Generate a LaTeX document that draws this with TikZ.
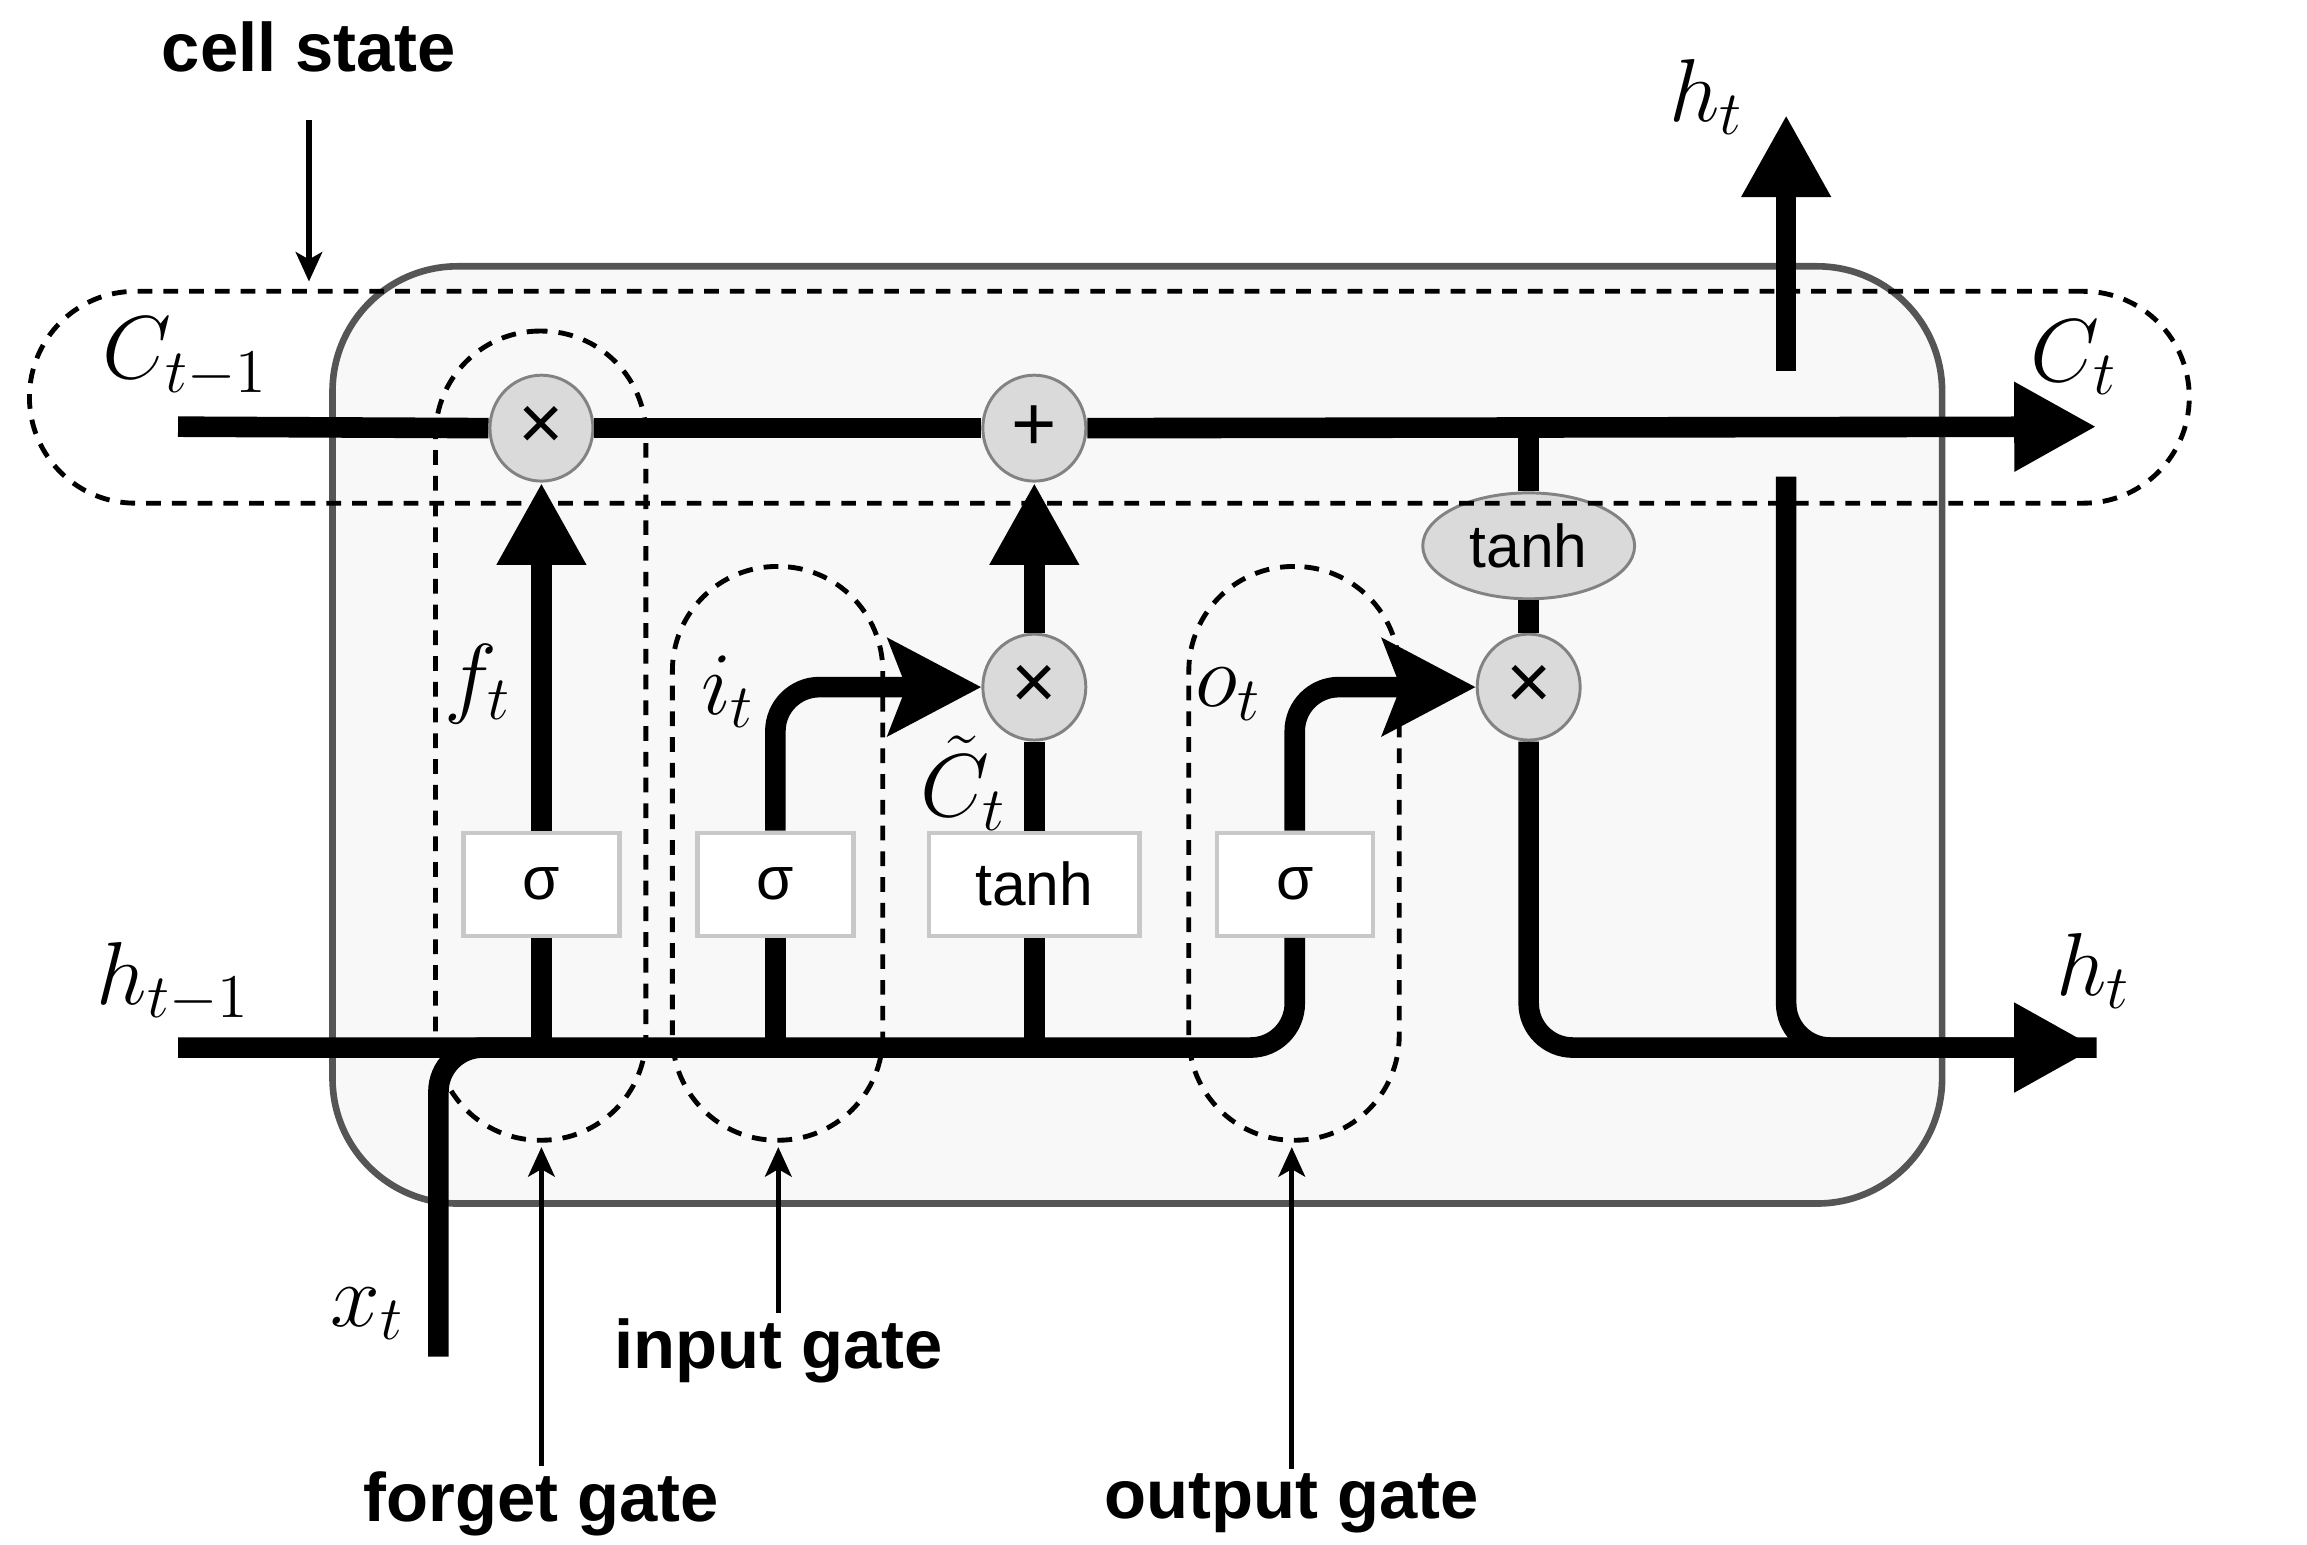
\documentclass[tikz,border=0pt]{standalone}
\usepackage{fontspec}
\setmainfont{Liberation Sans}
\usetikzlibrary{arrows.meta,shapes.geometric}
\definecolor{boxedge}{RGB}{85,85,85}
\definecolor{boxfill}{RGB}{248,248,248}
\definecolor{opedge}{RGB}{130,130,130}
\definecolor{opfill}{RGB}{218,218,218}
\definecolor{layedge}{RGB}{200,200,200}
\tikzset{
  main/.style={line width=1.4mm},
  bigtip/.style={-{Triangle[length=5.6mm,width=5.7mm]}},
  sidetip/.style={-{Stealth[length=6.3mm,width=6.5mm,inset=1.2mm]}},
  cellbox/.style={draw=boxedge, line width=0.45mm, fill=boxfill, rounded corners=8.5mm, minimum width=109.4mm, minimum height=63.7mm, inner sep=0pt},
  optr/.style={draw=opedge, line width=0.2mm, fill=opfill, ellipse, minimum width=7mm, minimum height=7.2mm, inner sep=0pt, font=\fontsize{15}{15}\selectfont},
  layer/.style={draw=layedge, line width=0.3mm, fill=white, minimum width=10.6mm, minimum height=7mm, inner sep=0pt, font=\fontsize{11.7}{12}\selectfont},
  gate/.style={draw, dash pattern=on 1mm off 0.75mm, line width=0.33mm, rounded corners=7.1mm, minimum width=14.3mm, inner sep=0pt},
  mlabel/.style={font=\fontsize{17.5}{20}\selectfont, inner sep=0pt},
  blabel/.style={font=\fontsize{13.3}{16}\selectfont\bfseries, inner sep=0pt},
  note/.style={line width=0.35mm, -{Stealth[length=2mm,width=1.8mm,inset=0.5mm]}},
}
\begin{document}
\begin{tikzpicture}[x=0.1mm,y=-0.1mm]
\fill[white] (0,0) rectangle (1568,1050);
\useasboundingbox (0,0) rectangle (1568,1050);
% cell body
\node[cellbox] (cell) at (773,499.5) {};
% pointwise operators
\node[optr] (fx) at (368,291) {×};
\node[optr] (plus) at (703,291) {+};
\node[optr] (ix) at (703,467) {×};
\node[optr] (ox) at (1039,467) {×};
\node[optr, minimum width=14.4mm, minimum height=7.2mm, font=\fontsize{11.7}{12}\selectfont] (th) at (1039,371) {tanh};
% layers
\node[layer] (sigf) at (368,601) {σ};
\node[layer] (sigi) at (527,601) {σ};
\node[layer, minimum width=14.3mm] (tanhl) at (703,601) {tanh};
\node[layer] (sigo) at (880,601) {σ};
% free ends
\coordinate (cs0) at (121,290);
\coordinate (cs1) at (1425,290);
\coordinate (h0) at (121,712);
\coordinate (hout) at (1425,712);
\coordinate (x0) at (298,922);
\coordinate (hupA) at (1214,324);
\coordinate (hupB) at (1214,252);
\coordinate (hupC) at (1214,78);
% cell state line
\draw[main] (cs0) -- (fx.west);
\draw[main] (fx.east) -- (plus.west);
\draw[main, bigtip] (plus.east) -- (cs1);
\draw[main] (th |- cs0) -- (th.north);
\draw[main] (th.south) -- (ox.north);
% inputs
\draw[main, rounded corners=3mm] (x0) -- (x0 |- h0) -- (fx |- h0);
\draw[main, rounded corners=3mm] (h0) -- (sigo |- h0) -- (sigo.south);
\draw[main, rounded corners=3mm, sidetip] (sigo.north) -- (sigo |- ox) -- (ox.west);
\draw[main] (fx |- h0) -- (sigf.south);
\draw[main, bigtip] (sigf.north) -- (fx.south);
\draw[main] (sigi |- h0) -- (sigi.south);
\draw[main, rounded corners=3mm, sidetip] (sigi.north) -- (sigi |- ix) -- (ix.west);
\draw[main] (tanhl |- h0) -- (tanhl.south);
\draw[main] (tanhl.north) -- (ix.south);
\draw[main, bigtip] (ix.north) -- (plus.south);
% outputs
\draw[main, rounded corners=3mm, bigtip] (ox.south) -- (ox |- hout) -- (hout);
\draw[main, rounded corners=3mm] (hupA) -- (hupA |- hout) -- (hout);
\draw[main, bigtip] (hupB) -- (hupC);
% math labels
\node[mlabel] (lc0) at (126,243) {$C_{t-1}$};
\node[mlabel] (lct) at (1410,243) {$C_t$};
\node[mlabel] (lht1) at (1160,66) {$h_t$};
\node[mlabel] (lhp) at (118,668) {$h_{t-1}$};
\node[mlabel] (lht2) at (1423,660) {$h_t$};
\node[mlabel] (lx) at (250,893) {$x_t$};
\node[mlabel] (lf) at (325,465) {$f_t$};
\node[mlabel] (li) at (495,470) {$i_t$};
\node[mlabel] (lct2) at (655,532) {$\tilde{C}_t$};
\node[mlabel] (lo) at (835,472) {$o_t$};
% gate outlines
\node[gate, minimum height=55mm] (fg) at (367.5,500) {};
\node[gate, minimum height=39mm] (ig) at (528.5,580) {};
\node[gate, minimum height=39mm] (og) at (879.5,580) {};
\node[gate, minimum width=146.8mm, minimum height=14.4mm, rounded corners=7.2mm] (csg) at (754,270) {};
% annotations
\node[blabel] (ncs) at (210,32) {cell state};
\node[blabel] (nin) at (529,918) {input gate};
\node[blabel] (nfg) at (368,1022) {forget gate};
\node[blabel] (nog) at (878,1022) {output gate};
\draw[note, shorten <=3.2mm, shorten >=0.5mm] (ncs.south) -- (ncs.south |- csg.north);
\draw[note, shorten <=0.3mm, shorten >=0.3mm] (nfg.north) -- (nfg.north |- fg.south);
\draw[note, shorten <=0.3mm, shorten >=0.3mm] (nin.north) -- (nin.north |- ig.south);
\draw[note, shorten <=0.3mm, shorten >=0.3mm] (nog.north) -- (nog.north |- og.south);
\end{tikzpicture}
\end{document}
